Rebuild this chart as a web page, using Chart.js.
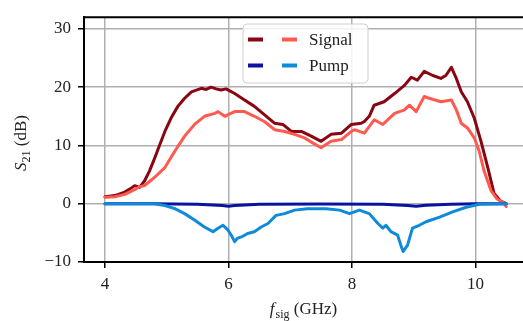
<!DOCTYPE html>
<html>
<head>
<meta charset="utf-8">
<script src="https://cdn.jsdelivr.net/npm/chart.js@4"></script>
<style>
  html, body { margin: 0; padding: 0; background: #fff; }
  #wrap { width: 523px; height: 321px; }
</style>
</head>
<body>
<div id="wrap"><canvas id="myChart" width="523" height="321"></canvas></div>
<script>
// tick labels
const xTicks = [4, 6, 8, 10];
const yTicks = [-10, 0, 10, 20, 30];

// signal gain, dark trace
const sigDarkX = [4.0, 4.16, 4.32, 4.40, 4.48, 4.56, 4.64, 4.72, 4.80, 4.89, 4.97, 5.07, 5.18, 5.29, 5.40, 5.48, 5.56, 5.64, 5.72, 5.80, 5.88, 5.96, 6.05, 6.10, 6.26, 6.42, 6.58, 6.75, 6.88, 7.02, 7.18, 7.34, 7.50, 7.66, 7.83, 7.99, 8.15, 8.20, 8.28, 8.36, 8.52, 8.69, 8.85, 8.96, 9.06, 9.17, 9.31, 9.44, 9.52, 9.61, 9.69, 9.77, 9.87, 9.98, 10.09, 10.20, 10.30, 10.40, 10.48];
const sigDarkY = [1.2, 1.4, 2.0, 2.5, 3.1, 2.8, 3.9, 5.6, 7.7, 10.2, 12.4, 14.7, 16.7, 18.1, 19.2, 19.5, 19.8, 19.6, 20.0, 19.7, 19.5, 19.7, 19.2, 18.9, 17.8, 16.7, 15.3, 13.8, 13.6, 12.4, 12.4, 11.6, 10.7, 11.9, 12.1, 13.6, 13.8, 14.1, 15.0, 16.9, 17.5, 18.9, 20.3, 21.7, 21.2, 22.7, 22.0, 21.5, 22.0, 23.4, 21.5, 19.2, 17.5, 14.7, 10.7, 6.2, 1.8, 0.5, 0.1];

// signal gain, light trace
const sigLightX = [4.0, 4.16, 4.32, 4.48, 4.56, 4.64, 4.80, 4.97, 5.13, 5.29, 5.45, 5.61, 5.78, 5.83, 5.94, 6.02, 6.10, 6.26, 6.42, 6.58, 6.75, 6.91, 7.07, 7.23, 7.37, 7.50, 7.66, 7.83, 7.99, 8.04, 8.20, 8.36, 8.50, 8.69, 8.85, 8.93, 9.04, 9.17, 9.25, 9.44, 9.61, 9.69, 9.77, 9.87, 9.98, 10.06, 10.14, 10.25, 10.35, 10.45, 10.50];
const sigLightY = [1.1, 1.2, 1.6, 2.4, 2.9, 3.1, 4.5, 6.2, 9.0, 11.6, 13.6, 15.0, 15.5, 15.8, 15.0, 15.4, 15.8, 15.8, 15.0, 14.1, 12.7, 12.4, 11.9, 11.3, 10.4, 9.6, 10.7, 11.0, 12.4, 12.7, 12.1, 14.4, 13.6, 15.5, 16.1, 16.9, 15.8, 18.4, 18.1, 17.5, 17.8, 16.1, 13.8, 13.0, 11.3, 9.0, 5.6, 2.3, 0.8, 0.2, -0.5];

// pump, dark trace
const pumpDarkX = [4.0, 4.8, 5.5, 5.9, 6.0, 6.1, 6.5, 7.5, 8.5, 8.9, 9.04, 9.2, 9.6, 10.0, 10.5];
const pumpDarkY = [0, 0, -0.1, -0.3, -0.45, -0.3, -0.1, -0.05, -0.1, -0.3, -0.45, -0.25, -0.1, 0, 0];

// pump, light trace
const pumpLightX = [4.0, 4.80, 4.97, 5.13, 5.29, 5.45, 5.61, 5.75, 5.83, 5.91, 5.99, 6.05, 6.10, 6.15, 6.21, 6.31, 6.42, 6.53, 6.64, 6.77, 6.91, 7.07, 7.28, 7.37, 7.58, 7.80, 7.96, 8.12, 8.28, 8.42, 8.50, 8.55, 8.63, 8.74, 8.80, 8.83, 8.90, 8.98, 9.09, 9.20, 9.42, 9.63, 9.85, 10.06, 10.50];
const pumpLightY = [0, 0, -0.3, -0.85, -1.7, -2.8, -4.0, -4.8, -4.2, -3.7, -4.5, -5.5, -6.5, -5.9, -5.7, -5.1, -4.8, -4.0, -3.4, -2.0, -1.7, -1.1, -0.85, -0.85, -0.85, -1.1, -1.7, -1.1, -1.7, -3.4, -4.2, -3.7, -4.8, -5.4, -7.4, -8.2, -7.1, -4.2, -3.7, -3.1, -2.3, -1.4, -0.6, -0.1, 0];

const DARK_RED = '#8a0512';
const LIGHT_RED = '#ff5a50';
const DARK_BLUE = '#0a12a0';
const LIGHT_BLUE = '#0f8ad8';
const FONT = '"Liberation Serif", "DejaVu Serif", serif';

function pts(xs, ys) {
    return xs.map((x, i) => ({ x: x, y: ys[i] }));
}

function line(data, color, order) {
    return {
        data: data,
        borderColor: color,
        borderWidth: 3,
        borderJoinStyle: 'round',
        borderCapStyle: 'round',
        pointRadius: 0,
        tension: 0,
        fill: false,
        order: order
    };
}

// spines, axis titles and the two-column legend
const decorations = {
    id: 'decorations',
    afterDraw(chart) {
        const ctx = chart.ctx;
        const a = chart.chartArea;
        ctx.save();

        // top spine
        ctx.strokeStyle = '#000';
        ctx.lineWidth = 2;
        ctx.beginPath();
        ctx.moveTo(a.left - 1, a.top);
        ctx.lineTo(a.right, a.top);
        ctx.stroke();

        ctx.fillStyle = '#222';
        ctx.textBaseline = 'alphabetic';

        // x title: f_sig (GHz)
        let cx = (a.left + a.right) / 2;
        let by = 314;
        ctx.font = 'italic 17px ' + FONT;
        const wF = ctx.measureText('f').width;
        ctx.font = '12px ' + FONT;
        const wSub = ctx.measureText('sig').width;
        ctx.font = '17px ' + FONT;
        const wRest = ctx.measureText(' (GHz)').width;
        let x0 = cx - (wF + wSub + 1 + wRest) / 2;
        ctx.textAlign = 'left';
        ctx.font = 'italic 17px ' + FONT;
        ctx.fillText('f', x0, by);
        ctx.font = '12px ' + FONT;
        ctx.fillText('sig', x0 + wF + 1, by + 4);
        ctx.font = '17px ' + FONT;
        ctx.fillText(' (GHz)', x0 + wF + 1 + wSub, by);

        // y title: S_21 (dB)
        ctx.translate(26, 143);
        ctx.rotate(-Math.PI / 2);
        ctx.font = 'italic 17px ' + FONT;
        const wS = ctx.measureText('S').width;
        ctx.font = '12px ' + FONT;
        const w21 = ctx.measureText('21').width;
        ctx.font = '17px ' + FONT;
        const wdB = ctx.measureText(' (dB)').width;
        x0 = -(wS + w21 + wdB) / 2;
        ctx.font = 'italic 17px ' + FONT;
        ctx.fillText('S', x0, 0);
        ctx.font = '12px ' + FONT;
        ctx.fillText('21', x0 + wS, 4);
        ctx.font = '17px ' + FONT;
        ctx.fillText(' (dB)', x0 + wS + w21, 0);
        ctx.setTransform(1, 0, 0, 1, 0, 0);

        // legend box
        const bx = 243, bw = 125, bt = 24, bh = 59, r = 4;
        ctx.beginPath();
        ctx.roundRect(bx, bt, bw, bh, r);
        ctx.fillStyle = 'rgba(255,255,255,0.85)';
        ctx.fill();
        ctx.strokeStyle = '#d0d0d0';
        ctx.lineWidth = 1;
        ctx.stroke();

        const rows = [
            { label: 'Signal', c1: DARK_RED, c2: LIGHT_RED, y: 39.5 },
            { label: 'Pump', c1: DARK_BLUE, c2: LIGHT_BLUE, y: 65.5 }
        ];
        ctx.lineWidth = 4;
        ctx.lineCap = 'butt';
        rows.forEach(row => {
            ctx.strokeStyle = row.c1;
            ctx.beginPath();
            ctx.moveTo(248, row.y);
            ctx.lineTo(263, row.y);
            ctx.stroke();
            ctx.strokeStyle = row.c2;
            ctx.beginPath();
            ctx.moveTo(282, row.y);
            ctx.lineTo(297, row.y);
            ctx.stroke();
            ctx.fillStyle = '#222';
            ctx.font = '17px ' + FONT;
            ctx.textAlign = 'left';
            ctx.fillText(row.label, 309, row.y + 5.5);
        });

        ctx.restore();
    }
};

new Chart(document.getElementById('myChart'), {
    type: 'line',
    data: {
        datasets: [
            line(pts(pumpLightX, pumpLightY), LIGHT_BLUE, 0),
            line(pts(pumpDarkX, pumpDarkY), DARK_BLUE, 1),
            line(pts(sigLightX, sigLightY), LIGHT_RED, 2),
            line(pts(sigDarkX, sigDarkY), DARK_RED, 3)
        ]
    },
    options: {
        responsive: false,
        animation: false,
        layout: { padding: { top: 15, right: 0, left: 0, bottom: 0 } },
        plugins: {
            legend: { display: false },
            tooltip: { enabled: false }
        },
        scales: {
            x: {
                type: 'linear',
                min: 3.66,
                max: 10.77,
                afterBuildTicks: s => { s.ticks = xTicks.map(v => ({ value: v })); },
                afterFit: s => { s.height = 59; },
                grid: { color: '#b0b0b0', lineWidth: 1.5, tickColor: '#000', tickWidth: 1.5, tickLength: 6 },
                border: { display: true, color: '#000', width: 2 },
                ticks: { color: '#222', padding: 6, font: { family: FONT, size: 17 } }
            },
            y: {
                type: 'linear',
                min: -10,
                max: 32,
                afterBuildTicks: s => { s.ticks = yTicks.map(v => ({ value: v })); },
                afterFit: s => { s.width = 84; },
                grid: { color: '#b0b0b0', lineWidth: 1.5, tickColor: '#000', tickWidth: 1.5, tickLength: 6 },
                border: { display: true, color: '#000', width: 2 },
                ticks: {
                    color: '#222',
                    padding: 7,
                    font: { family: FONT, size: 17 },
                    callback: v => v < 0 ? '\u2212' + Math.abs(v) : String(v)
                }
            }
        }
    },
    plugins: [decorations]
});
</script>
</body>
</html>
